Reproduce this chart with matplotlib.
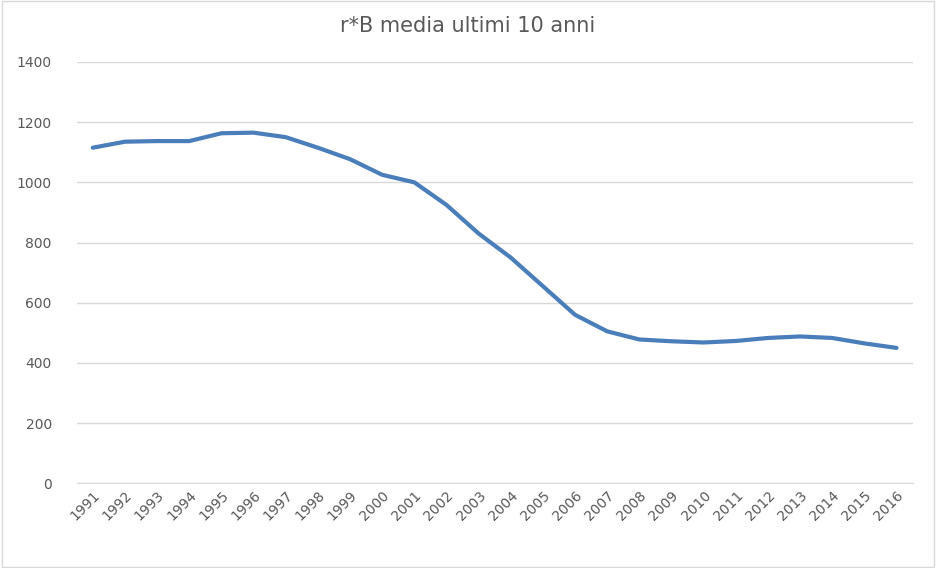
import matplotlib
matplotlib.use("Agg")
import matplotlib.pyplot as plt

years = [str(y) for y in range(1991, 2017)]
values = [1115, 1135, 1137, 1137, 1163, 1165, 1150, 1115, 1077, 1025, 1000, 925, 830, 750,
          655, 560, 505, 478, 472, 468, 473, 483, 488, 483, 465, 450]
yticks = [0, 200, 400, 600, 800, 1000, 1200, 1400]

fig = plt.figure(figsize=(9.36, 5.68), dpi=100)
ax = fig.add_axes([0.082, 0.149, 0.893, 0.742])
x = list(range(len(years)))
ax.plot(x, values, color="#4a7ebb", linewidth=3, solid_joinstyle="round", solid_capstyle="round")
ax.set_xlim(-0.5, len(years) - 0.5)
ax.set_ylim(0, 1400)
ax.set_yticks(yticks)
ax.set_xticks(x)
ax.set_xticklabels(years, rotation=45, ha="right", rotation_mode="anchor")
ax.tick_params(axis="both", length=0, colors="#595959", labelsize=10)
ax.tick_params(axis="y", pad=18)
ax.grid(axis="y", color="#d9d9d9", linewidth=1)
ax.set_axisbelow(True)
for s in ["top", "right", "left"]:
    ax.spines[s].set_visible(False)
ax.spines["bottom"].set_color("#d9d9d9")
fig.text(0.5, 0.955, "r*B media ultimi 10 anni", ha="center", va="center", fontsize=15, color="#595959")
fig.patches.append(plt.Rectangle((0.002, 0.002), 0.996, 0.996, transform=fig.transFigure,
                                 fill=False, edgecolor="#d9d9d9", linewidth=1))
fig.savefig("out.png", dpi=100)
